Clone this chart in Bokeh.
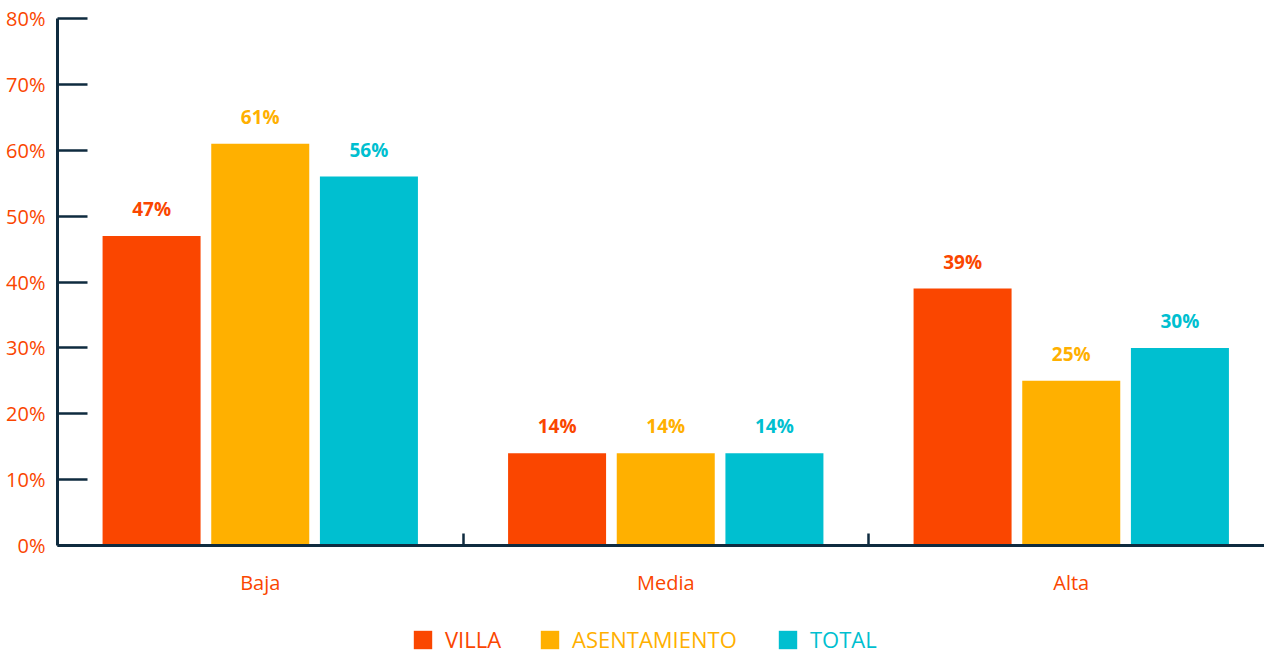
from bokeh.plotting import figure
from bokeh.layouts import column
from bokeh.models import (Range1d, FixedTicker, PrintfTickFormatter, Legend, LegendItem)
from bokeh.core.properties import value
from bokeh.embed import file_html
from bokeh.resources import INLINE

categories = ["Baja", "Media", "Alta"]
villa = [47, 14, 39]
asentamiento = [61, 14, 25]
total = [56, 14, 30]
series_names = ["VILLA", "ASENTAMIENTO", "TOTAL"]
y_ticks = [0, 10, 20, 30, 40, 50, 60, 70, 80]

colors = ["#FA4600", "#FFB000", "#00BFD0"]
axis_color = "#0F2B3F"
label_color = "#FA4600"
FONT = "Open Sans"

offsets = [-0.268, 0.0, 0.268]
bar_w = 0.2417

W = 1264
LEFT = 57
p = figure(width=W, height=620, output_backend="svg", toolbar_location=None,
           x_range=Range1d(0, (W - LEFT) / 405.5), y_range=Range1d(0, 80),
           min_border_left=LEFT, min_border_right=0, min_border_top=18, min_border_bottom=75)
p.outline_line_color = None
p.xgrid.grid_line_color = None
p.ygrid.grid_line_color = None
p.background_fill_color = "white"
p.border_fill_color = "white"

for vals, name, col, off in zip([villa, asentamiento, total], series_names, colors, offsets):
    xs = [i + 0.5 + off for i in range(len(categories))]
    p.vbar(x=xs, top=vals, width=bar_w, bottom=0, fill_color=col, line_color=None)
    p.text(x=xs, y=vals, text=[f"{v}%" for v in vals], text_align="center",
           text_baseline="bottom", y_offset=-14, text_color=col,
           text_font=value(FONT), text_font_style="bold", text_font_size="19px")

# y axis
ya = p.yaxis[0]
ya.ticker = FixedTicker(ticks=y_ticks, minor_ticks=[])
ya.formatter = PrintfTickFormatter(format="%d%%")
ya.axis_line_color = axis_color
ya.axis_line_width = 3
ya.major_tick_line_color = axis_color
ya.major_tick_line_width = 2.5
ya.major_tick_in = 30
ya.major_tick_out = 0
ya.minor_tick_line_color = None
ya.major_label_standoff = 12
ya.major_label_text_color = label_color
ya.major_label_text_font = FONT
ya.major_label_text_font_size = "20px"

# x axis
xa = p.xaxis[0]
centers = [i + 0.5 for i in range(len(categories))]
bounds = [i + 1 for i in range(len(categories) - 1)]
xa.ticker = FixedTicker(ticks=centers, minor_ticks=bounds)
xa.major_label_overrides = {c: name for c, name in zip(centers, categories)}
xa.axis_line_color = axis_color
xa.axis_line_width = 3
xa.major_tick_line_color = None
xa.major_tick_in = 0
xa.major_tick_out = 0
xa.minor_tick_line_color = axis_color
xa.minor_tick_line_width = 2.5
xa.minor_tick_in = 12
xa.minor_tick_out = 0
xa.major_label_standoff = 23
xa.major_label_text_color = label_color
xa.major_label_text_font = FONT
xa.major_label_text_font_size = "20px"

# legend strip
lp = figure(width=W, height=34, output_backend="svg", toolbar_location=None,
            x_range=Range1d(0, 1), y_range=Range1d(0, 1),
            x_axis_location=None, y_axis_location=None,
            min_border_left=LEFT, min_border_right=0, min_border_top=0, min_border_bottom=0)
lp.outline_line_color = None
lp.xgrid.grid_line_color = None
lp.ygrid.grid_line_color = None
lp.background_fill_color = None
lp.border_fill_color = None

legend_x = [411, 538, 776]
for name, col, lx in zip(series_names, colors, legend_x):
    # zero-size placeholder renderer, used only to style the legend swatch
    r = lp.vbar(x=[0.5], top=[0], bottom=[0], width=0, fill_color=col, line_color=None)
    lg = Legend(items=[LegendItem(label=name, renderers=[r])],
                location=(lx - LEFT, 0), glyph_width=23, glyph_height=23, label_standoff=11,
                margin=0, padding=0, border_line_color=None, background_fill_alpha=0,
                label_text_font=FONT, label_text_font_size="22px", label_text_color=col,
                label_height=23)
    lp.add_layout(lg, "center")

layout = column(p, lp, spacing=0)
open("out.html", "w").write(file_html(layout, INLINE))
